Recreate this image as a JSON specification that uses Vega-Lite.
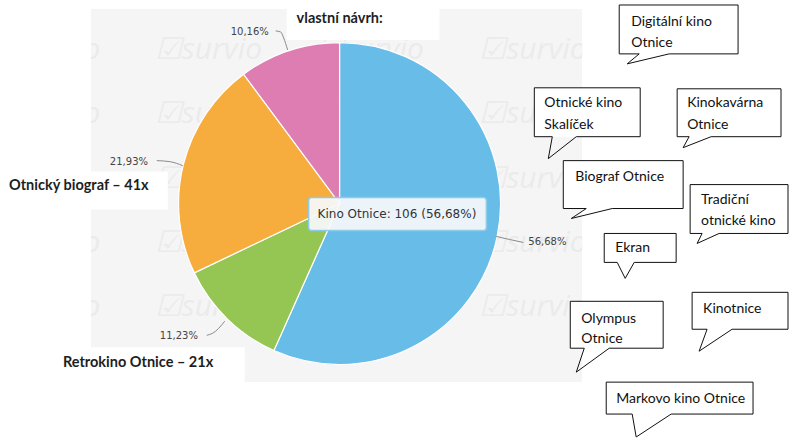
{
  "$schema": "https://vega.github.io/schema/vega-lite/v6.json",
  "width": 790,
  "height": 439,
  "padding": 0,
  "autosize": {"type": "fit", "contains": "padding"},
  "background": "#ffffff",
  "config": {"view": {"stroke": null}},
  "datasets": {
    "plocha": [{"x1": 91, "x2": 583, "y1": 9, "y2": 383}],
    "vodoznak": [
      {"x": -7, "y": 50}, {"x": 155, "y": 50}, {"x": 317, "y": 50}, {"x": 480, "y": 50},
      {"x": -7, "y": 114}, {"x": 155, "y": 114}, {"x": 317, "y": 114}, {"x": 480, "y": 114},
      {"x": -7, "y": 179}, {"x": 155, "y": 179}, {"x": 317, "y": 179}, {"x": 480, "y": 179},
      {"x": -7, "y": 244}, {"x": 155, "y": 244}, {"x": 317, "y": 244}, {"x": 480, "y": 244},
      {"x": -7, "y": 308}, {"x": 155, "y": 308}, {"x": 317, "y": 308}, {"x": 480, "y": 308}
    ],
    "maska": [
      {"x1": 0, "x2": 91, "y1": 0, "y2": 439},
      {"x1": 583, "x2": 790, "y1": 0, "y2": 439},
      {"x1": 91, "x2": 583, "y1": 0, "y2": 9},
      {"x1": 91, "x2": 583, "y1": 383, "y2": 439},
      {"x1": 287, "x2": 440, "y1": 0, "y2": 40},
      {"x1": 13, "x2": 168, "y1": 172, "y2": 210},
      {"x1": 53, "x2": 245, "y1": 348, "y2": 384}
    ],
    "kolac": [
      {"kategorie": "Kino Otnice", "pocet": 106, "poradi": 1},
      {"kategorie": "Retrokino Otnice", "pocet": 21, "poradi": 2},
      {"kategorie": "Otnický biograf", "pocet": 41, "poradi": 3},
      {"kategorie": "vlastní návrh", "pocet": 19, "poradi": 4}
    ],
    "vodici": [
      {"id": "a", "i": 1, "x": 276, "y": 31}, {"id": "a", "i": 2, "x": 281, "y": 32}, {"id": "a", "i": 3, "x": 284, "y": 38}, {"id": "a", "i": 4, "x": 288, "y": 50},
      {"id": "b", "i": 1, "x": 157, "y": 161}, {"id": "b", "i": 2, "x": 170, "y": 162}, {"id": "b", "i": 3, "x": 183, "y": 166},
      {"id": "c", "i": 1, "x": 207, "y": 336}, {"id": "c", "i": 2, "x": 213, "y": 334}, {"id": "c", "i": 3, "x": 225, "y": 322},
      {"id": "d", "i": 1, "x": 497, "y": 237}, {"id": "d", "i": 2, "x": 510, "y": 240}, {"id": "d", "i": 3, "x": 524, "y": 243}
    ],
    "procenta": [
      {"t": "10,16%", "x": 231, "y": 32},
      {"t": "21,93%", "x": 110, "y": 162},
      {"t": "11,23%", "x": 160, "y": 337},
      {"t": "56,68%", "x": 529, "y": 243}
    ],
    "tucne": [
      {"t": "vlastní návrh:", "x": 297, "y": 19},
      {"t": "Otnický biograf – 41x", "x": 9, "y": 186},
      {"t": "Retrokino Otnice – 21x", "x": 63, "y": 364}
    ],
    "tip": [{"x1": 309, "x2": 487, "y1": 198, "y2": 231, "x": 318, "y": 214.5, "t": "Kino Otnice: 106 (56,68%)"}],
    "bubliny": [
      {"x1": 620, "x2": 739, "y1": 5, "y2": 54},
      {"x1": 535, "x2": 641, "y1": 88, "y2": 137},
      {"x1": 678, "x2": 782, "y1": 89, "y2": 137},
      {"x1": 564, "x2": 684, "y1": 161, "y2": 209},
      {"x1": 691, "x2": 789, "y1": 185, "y2": 234},
      {"x1": 605, "x2": 677, "y1": 234, "y2": 263},
      {"x1": 571, "x2": 664, "y1": 302, "y2": 349},
      {"x1": 693, "x2": 789, "y1": 293, "y2": 330},
      {"x1": 607, "x2": 754, "y1": 383, "y2": 415}
    ],
    "obrysy": [
      {"b": 1, "i": 1, "x": 620, "y": 5}, {"b": 1, "i": 2, "x": 739, "y": 5}, {"b": 1, "i": 3, "x": 739, "y": 54}, {"b": 1, "i": 4, "x": 670, "y": 54}, {"b": 1, "i": 5, "x": 628, "y": 64}, {"b": 1, "i": 6, "x": 640, "y": 54}, {"b": 1, "i": 7, "x": 620, "y": 54}, {"b": 1, "i": 8, "x": 620, "y": 5},
      {"b": 2, "i": 1, "x": 535, "y": 88}, {"b": 2, "i": 2, "x": 641, "y": 88}, {"b": 2, "i": 3, "x": 641, "y": 137}, {"b": 2, "i": 4, "x": 577, "y": 137}, {"b": 2, "i": 5, "x": 549, "y": 159}, {"b": 2, "i": 6, "x": 553, "y": 137}, {"b": 2, "i": 7, "x": 535, "y": 137}, {"b": 2, "i": 8, "x": 535, "y": 88},
      {"b": 3, "i": 1, "x": 678, "y": 89}, {"b": 3, "i": 2, "x": 782, "y": 89}, {"b": 3, "i": 3, "x": 782, "y": 137}, {"b": 3, "i": 4, "x": 712, "y": 137}, {"b": 3, "i": 5, "x": 684, "y": 148}, {"b": 3, "i": 6, "x": 690, "y": 137}, {"b": 3, "i": 7, "x": 678, "y": 137}, {"b": 3, "i": 8, "x": 678, "y": 89},
      {"b": 4, "i": 1, "x": 564, "y": 161}, {"b": 4, "i": 2, "x": 684, "y": 161}, {"b": 4, "i": 3, "x": 684, "y": 209}, {"b": 4, "i": 4, "x": 613, "y": 209}, {"b": 4, "i": 5, "x": 572, "y": 219}, {"b": 4, "i": 6, "x": 587, "y": 209}, {"b": 4, "i": 7, "x": 564, "y": 209}, {"b": 4, "i": 8, "x": 564, "y": 161},
      {"b": 5, "i": 1, "x": 691, "y": 185}, {"b": 5, "i": 2, "x": 789, "y": 185}, {"b": 5, "i": 3, "x": 789, "y": 234}, {"b": 5, "i": 4, "x": 720, "y": 234}, {"b": 5, "i": 5, "x": 698, "y": 244}, {"b": 5, "i": 6, "x": 703, "y": 234}, {"b": 5, "i": 7, "x": 691, "y": 234}, {"b": 5, "i": 8, "x": 691, "y": 185},
      {"b": 6, "i": 1, "x": 605, "y": 234}, {"b": 6, "i": 2, "x": 677, "y": 234}, {"b": 6, "i": 3, "x": 677, "y": 263}, {"b": 6, "i": 4, "x": 635, "y": 263}, {"b": 6, "i": 5, "x": 626, "y": 279}, {"b": 6, "i": 6, "x": 618, "y": 263}, {"b": 6, "i": 7, "x": 605, "y": 263}, {"b": 6, "i": 8, "x": 605, "y": 234},
      {"b": 7, "i": 1, "x": 571, "y": 302}, {"b": 7, "i": 2, "x": 664, "y": 302}, {"b": 7, "i": 3, "x": 664, "y": 349}, {"b": 7, "i": 4, "x": 610, "y": 349}, {"b": 7, "i": 5, "x": 577, "y": 373}, {"b": 7, "i": 6, "x": 585, "y": 349}, {"b": 7, "i": 7, "x": 571, "y": 349}, {"b": 7, "i": 8, "x": 571, "y": 302},
      {"b": 8, "i": 1, "x": 693, "y": 293}, {"b": 8, "i": 2, "x": 789, "y": 293}, {"b": 8, "i": 3, "x": 789, "y": 330}, {"b": 8, "i": 4, "x": 733, "y": 330}, {"b": 8, "i": 5, "x": 700, "y": 352}, {"b": 8, "i": 6, "x": 708, "y": 330}, {"b": 8, "i": 7, "x": 693, "y": 330}, {"b": 8, "i": 8, "x": 693, "y": 293},
      {"b": 9, "i": 1, "x": 607, "y": 383}, {"b": 9, "i": 2, "x": 754, "y": 383}, {"b": 9, "i": 3, "x": 754, "y": 415}, {"b": 9, "i": 4, "x": 672, "y": 415}, {"b": 9, "i": 5, "x": 637, "y": 438}, {"b": 9, "i": 6, "x": 633, "y": 415}, {"b": 9, "i": 7, "x": 607, "y": 415}, {"b": 9, "i": 8, "x": 607, "y": 383}
    ],
    "texty": [
      {"t": "Digitální kino", "x": 632, "y": 22},
      {"t": "Otnice", "x": 632, "y": 43},
      {"t": "Otnické kino", "x": 545, "y": 103},
      {"t": "Skalíček", "x": 545, "y": 125},
      {"t": "Kinokavárna", "x": 688, "y": 103},
      {"t": "Otnice", "x": 688, "y": 125},
      {"t": "Biograf Otnice", "x": 576, "y": 177},
      {"t": "Tradiční", "x": 702, "y": 200},
      {"t": "otnické kino", "x": 702, "y": 222},
      {"t": "Ekran", "x": 616, "y": 249},
      {"t": "Olympus", "x": 582, "y": 320},
      {"t": "Otnice", "x": 582, "y": 340},
      {"t": "Kinotnice", "x": 704, "y": 310},
      {"t": "Markovo kino Otnice", "x": 617, "y": 400}
    ]
  },
  "layer": [
    {
      "data": {"name": "plocha"},
      "mark": {"type": "rect", "color": "#f5f5f6"},
      "encoding": {
        "x": {"field": "x1", "type": "quantitative", "scale": {"domain": [0, 790], "nice": false, "zero": false}, "axis": null},
        "x2": {"field": "x2"},
        "y": {"field": "y1", "type": "quantitative", "scale": {"domain": [0, 439], "nice": false, "zero": false, "reverse": true}, "axis": null},
        "y2": {"field": "y2"}
      }
    },
    {
      "data": {"name": "vodoznak"},
      "mark": {"type": "text", "text": "☑survio", "font": "Open Sans", "fontSize": 30, "fontStyle": "italic", "align": "left", "baseline": "middle", "color": "#ebebec", "clip": true},
      "encoding": {
        "x": {"field": "x", "type": "quantitative"},
        "y": {"field": "y", "type": "quantitative"}
      }
    },
    {
      "data": {"name": "maska"},
      "mark": {"type": "rect", "color": "#ffffff"},
      "encoding": {
        "x": {"field": "x1", "type": "quantitative"},
        "x2": {"field": "x2"},
        "y": {"field": "y1", "type": "quantitative"},
        "y2": {"field": "y2"}
      }
    },
    {
      "data": {"name": "kolac"},
      "mark": {"type": "arc", "outerRadius": 161, "stroke": "#ffffff", "strokeWidth": 1.2},
      "encoding": {
        "theta": {"field": "pocet", "type": "quantitative", "stack": true},
        "order": {"field": "poradi", "type": "quantitative"},
        "color": {
          "field": "kategorie", "type": "nominal", "legend": null,
          "scale": {"domain": ["Kino Otnice", "Retrokino Otnice", "Otnický biograf", "vlastní návrh"], "range": ["#68bce8", "#95c653", "#f6ad3d", "#dd7db1"]}
        },
        "x": {"datum": 340, "type": "quantitative"},
        "y": {"datum": 204, "type": "quantitative"}
      }
    },
    {
      "data": {"name": "vodici"},
      "mark": {"type": "line", "color": "#8a8a8a", "strokeWidth": 1, "interpolate": "monotone"},
      "encoding": {
        "x": {"field": "x", "type": "quantitative"},
        "y": {"field": "y", "type": "quantitative"},
        "detail": {"field": "id"},
        "order": {"field": "i", "type": "quantitative"}
      }
    },
    {
      "data": {"name": "procenta"},
      "mark": {"type": "text", "font": "DejaVu Sans", "fontSize": 10, "align": "left", "baseline": "middle", "color": "#444444"},
      "encoding": {
        "x": {"field": "x", "type": "quantitative"},
        "y": {"field": "y", "type": "quantitative"},
        "text": {"field": "t"}
      }
    },
    {
      "data": {"name": "tucne"},
      "mark": {"type": "text", "font": "Lato", "fontSize": 14.5, "fontWeight": "bold", "align": "left", "baseline": "middle", "color": "#1e1e1e"},
      "encoding": {
        "x": {"field": "x", "type": "quantitative"},
        "y": {"field": "y", "type": "quantitative"},
        "text": {"field": "t"}
      }
    },
    {
      "data": {"name": "tip"},
      "mark": {"type": "rect", "fill": "#f6f9fb", "fillOpacity": 0.93, "stroke": "#8ccbea", "strokeWidth": 1.5, "cornerRadius": 3},
      "encoding": {
        "x": {"field": "x1", "type": "quantitative"},
        "x2": {"field": "x2"},
        "y": {"field": "y1", "type": "quantitative"},
        "y2": {"field": "y2"}
      }
    },
    {
      "data": {"name": "tip"},
      "mark": {"type": "text", "font": "DejaVu Sans", "fontSize": 12, "align": "left", "baseline": "middle", "color": "#333333"},
      "encoding": {
        "x": {"field": "x", "type": "quantitative"},
        "y": {"field": "y", "type": "quantitative"},
        "text": {"field": "t"}
      }
    },
    {
      "data": {"name": "bubliny"},
      "mark": {"type": "rect", "color": "#ffffff"},
      "encoding": {
        "x": {"field": "x1", "type": "quantitative"},
        "x2": {"field": "x2"},
        "y": {"field": "y1", "type": "quantitative"},
        "y2": {"field": "y2"}
      }
    },
    {
      "data": {"name": "obrysy"},
      "mark": {"type": "line", "color": "#111111", "strokeWidth": 1, "interpolate": "linear", "strokeJoin": "miter"},
      "encoding": {
        "x": {"field": "x", "type": "quantitative"},
        "y": {"field": "y", "type": "quantitative"},
        "detail": {"field": "b"},
        "order": {"field": "i", "type": "quantitative"}
      }
    },
    {
      "data": {"name": "texty"},
      "mark": {"type": "text", "font": "Lato", "fontSize": 14, "align": "left", "baseline": "middle", "color": "#111111"},
      "encoding": {
        "x": {"field": "x", "type": "quantitative"},
        "y": {"field": "y", "type": "quantitative"},
        "text": {"field": "t"}
      }
    }
  ]
}
